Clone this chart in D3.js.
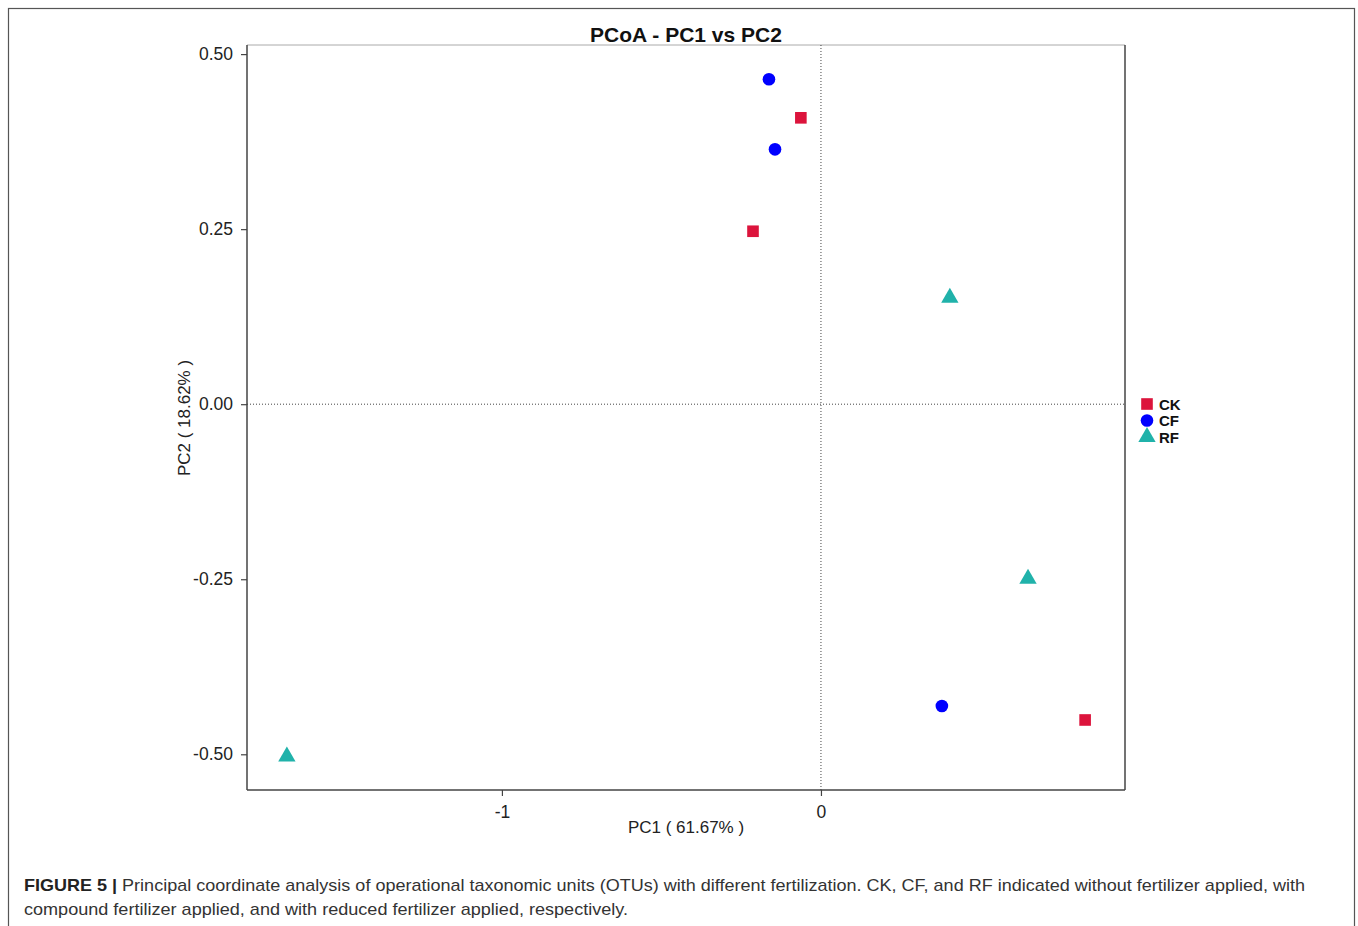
<!DOCTYPE html>
<html>
<head>
<meta charset="utf-8">
<script src="https://cdn.jsdelivr.net/npm/d3@7"></script>
<style>
  body { margin: 0; background: #fff; }
  text { font-family: "Liberation Sans", Arial, sans-serif; }
</style>
</head>
<body>
<div id="chart"></div>
<script>
// groups and PCoA scores
var groups = ["CK", "CF", "RF"];
var groupColors = ["#DC143C", "#0000FF", "#20B2AA"];
var sampleGroup = ["CK", "CK", "CK", "CF", "CF", "CF", "RF", "RF", "RF"];
var pc1 = [-0.063, -0.213, 0.828, -0.163, -0.144, 0.379, 0.404, 0.649, -1.674];
var pc2 = [0.409, 0.247, -0.451, 0.464, 0.364, -0.431, 0.154, -0.247, -0.501];
var xTicks = [-1, 0];
var yTicks = [0.5, 0.25, 0, -0.25, -0.5];

var W = 1358, H = 926;
var plot = {left: 247, top: 45, right: 1125, bottom: 790};

var svg = d3.select("#chart").append("svg")
    .attr("width", W)
    .attr("height", H);

// outer figure frame
svg.append("rect")
    .attr("x", 8.5).attr("y", 8.5)
    .attr("width", 1346).attr("height", 930)
    .attr("fill", "none")
    .attr("stroke", "#555")
    .attr("stroke-width", 1.2);

var x = d3.scaleLinear().domain([-1.799, 0.953]).range([plot.left, plot.right]);
var y = d3.scaleLinear().domain([-0.551, 0.513]).range([plot.bottom, plot.top]);

// keep plain hyphen for negatives like the original
var fmtX = function(d) { return String(d); };
var fmtY = function(d) { return d3.format(".2f")(d).replace("\u2212", "-"); };

var g = svg.append("g");

// panel border: light top, dark right
g.append("line").attr("x1", plot.left).attr("x2", plot.right)
    .attr("y1", plot.top).attr("y2", plot.top)
    .attr("stroke", "#aaa").attr("stroke-width", 1);
g.append("line").attr("x1", plot.right).attr("x2", plot.right)
    .attr("y1", plot.top).attr("y2", plot.bottom)
    .attr("stroke", "#444").attr("stroke-width", 1.5);

// zero reference lines
g.append("line")
    .attr("x1", x(0)).attr("x2", x(0))
    .attr("y1", plot.top).attr("y2", plot.bottom)
    .attr("stroke", "#444").attr("stroke-width", 1)
    .attr("stroke-dasharray", "1,2");
g.append("line")
    .attr("x1", plot.left).attr("x2", plot.right)
    .attr("y1", y(0)).attr("y2", y(0))
    .attr("stroke", "#444").attr("stroke-width", 1)
    .attr("stroke-dasharray", "1,2");

// axes
var xAxis = g.append("g")
    .attr("transform", "translate(0," + plot.bottom + ")")
    .call(d3.axisBottom(x).tickValues(xTicks).tickFormat(fmtX).tickSizeOuter(0).tickSize(6).tickPadding(10));
var yAxis = g.append("g")
    .attr("transform", "translate(" + plot.left + ",0)")
    .call(d3.axisLeft(y).tickValues(yTicks).tickFormat(fmtY).tickSizeOuter(0).tickSize(6).tickPadding(8));

[xAxis, yAxis].forEach(function(a) {
    a.select(".domain").attr("stroke", "#444").attr("stroke-width", 1.5);
    a.selectAll(".tick line").attr("stroke", "#444").attr("stroke-width", 1.2);
    a.selectAll(".tick text")
        .attr("fill", "#222")
        .style("font-size", "17.5px")
        .style("font-family", "'Liberation Sans', Arial, sans-serif");
});
// stretch axis lines to the panel corners
xAxis.select(".domain").attr("d", "M" + plot.left + ",0H" + plot.right);
yAxis.select(".domain").attr("d", "M0," + plot.top + "V" + plot.bottom);

// markers
var symbolFor = {CK: d3.symbolSquare, CF: d3.symbolCircle, RF: d3.symbolTriangle};
var sizeFor = {CK: 135, CF: 125, RF: 130};
var color = d3.scaleOrdinal().domain(groups).range(groupColors);

g.selectAll("path.pt")
    .data(sampleGroup)
    .enter().append("path")
    .attr("class", "pt")
    .attr("transform", function(d, i) {
        var dy = d === "RF" ? 1.5 : 0;
        return "translate(" + x(pc1[i]) + "," + (y(pc2[i]) + dy) + ")";
    })
    .attr("d", function(d) { return d3.symbol().type(symbolFor[d]).size(sizeFor[d])(); })
    .attr("fill", function(d) { return color(d); });

// title and axis labels
svg.append("text")
    .attr("x", 686).attr("y", 42)
    .attr("text-anchor", "middle")
    .style("font-size", "21px").style("font-weight", "bold")
    .attr("fill", "#111")
    .text("PCoA - PC1 vs PC2");

svg.append("text")
    .attr("x", 686).attr("y", 833)
    .attr("text-anchor", "middle")
    .style("font-size", "17px")
    .attr("fill", "#222")
    .text("PC1 ( 61.67% )");

svg.append("text")
    .attr("transform", "translate(190,418) rotate(-90)")
    .attr("text-anchor", "middle")
    .style("font-size", "17px")
    .attr("fill", "#222")
    .text("PC2 ( 18.62% )");

// legend
var legend = svg.append("g").attr("transform", "translate(1147,404)");
var item = legend.selectAll("g")
    .data(groups)
    .enter().append("g")
    .attr("transform", function(d, i) { return "translate(0," + (i * 16.5) + ")"; });
item.append("path")
    .attr("d", function(d) { return d3.symbol().type(symbolFor[d]).size(sizeFor[d])(); })
    .attr("fill", function(d) { return color(d); });
item.append("text")
    .attr("x", 12).attr("y", 5.5)
    .style("font-size", "15px").style("font-weight", "bold")
    .attr("fill", "#111")
    .text(function(d) { return d; });

// figure caption
var cap1 = svg.append("text")
    .attr("x", 24).attr("y", 891)
    .style("font-size", "17px")
    .attr("fill", "#333")
    .attr("textLength", 1281).attr("lengthAdjust", "spacingAndGlyphs");
cap1.append("tspan").style("font-weight", "bold").attr("fill", "#222").text("FIGURE 5 | ");
cap1.append("tspan").text("Principal coordinate analysis of operational taxonomic units (OTUs) with different fertilization. CK, CF, and RF indicated without fertilizer applied, with");

svg.append("text")
    .attr("x", 24).attr("y", 915)
    .style("font-size", "17px")
    .attr("fill", "#333")
    .attr("textLength", 604).attr("lengthAdjust", "spacingAndGlyphs")
    .text("compound fertilizer applied, and with reduced fertilizer applied, respectively.");
</script>
</body>
</html>
